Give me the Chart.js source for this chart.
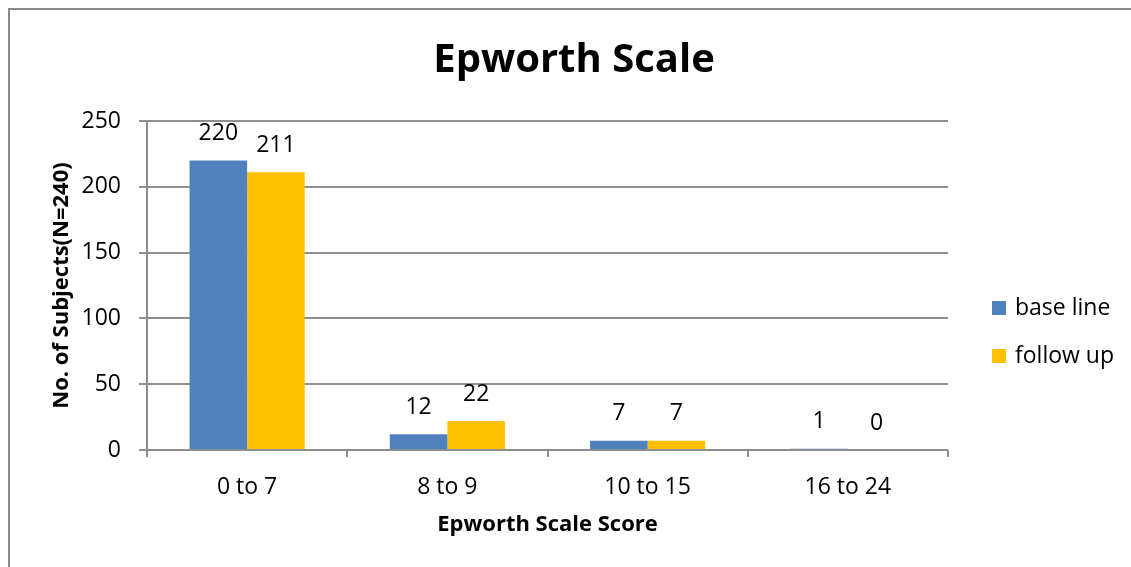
<!DOCTYPE html>
<html>
<head>
<meta charset="utf-8">
<script src="https://cdn.jsdelivr.net/npm/chart.js@4.4.1/dist/chart.umd.min.js"></script>
<style>
  html, body { margin: 0; padding: 0; background: #fff; }
  #wrap { position: relative; width: 1131px; height: 567px; }
</style>
</head>
<body>
<div id="wrap"><canvas id="c" width="1131" height="567"></canvas></div>
<script>
// Epworth Sleepiness Scale score bands and subject counts
const categories = ['0 to 7', '8 to 9', '10 to 15', '16 to 24'];
const baseLine = [220, 12, 7, 1];
const followUp = [211, 22, 7, 0];
const seriesNames = ['base line', 'follow up'];
const yTicks = [0, 50, 100, 150, 200, 250];

const FONT = '"Open Sans", Lato, sans-serif';
const GRID = '#8e8e8e';

// Outer frame (left and top edge) plus white background
const framePlugin = {
  id: 'frame',
  beforeDraw(chart) {
    const ctx = chart.ctx;
    ctx.save();
    ctx.fillStyle = '#fff';
    ctx.fillRect(0, 0, chart.width, chart.height);
    ctx.strokeStyle = '#8a8a8a';
    ctx.lineWidth = 2;
    ctx.beginPath();
    ctx.moveTo(9, chart.height);
    ctx.lineTo(9, 9);
    ctx.lineTo(chart.width, 9);
    ctx.stroke();
    ctx.restore();
  }
};

// Value labels above each bar
const valueLabels = {
  id: 'valueLabels',
  afterDatasetsDraw(chart) {
    const ctx = chart.ctx;
    ctx.save();
    ctx.font = '23px ' + FONT;
    ctx.fillStyle = '#000';
    ctx.textAlign = 'center';
    ctx.textBaseline = 'middle';
    chart.data.datasets.forEach((ds, di) => {
      chart.getDatasetMeta(di).data.forEach((bar, i) => {
        ctx.fillText(String(ds.data[i]), bar.x, bar.y - 27);
      });
    });
    ctx.restore();
  }
};

// Legend at the right, built from the dataset labels and colours
const sideLegend = {
  id: 'sideLegend',
  afterDraw(chart) {
    const ctx = chart.ctx;
    ctx.save();
    ctx.font = '23px ' + FONT;
    ctx.textBaseline = 'middle';
    ctx.textAlign = 'left';
    chart.data.datasets.forEach((ds, i) => {
      const cy = 308 + i * 48;
      ctx.fillStyle = ds.backgroundColor;
      ctx.fillRect(992, cy - 7, 14, 14);
      ctx.fillStyle = '#000';
      ctx.fillText(ds.label, 1015, cy);
    });
    ctx.restore();
  }
};

new Chart(document.getElementById('c'), {
  type: 'bar',
  data: {
    labels: categories,
    datasets: [
      { label: seriesNames[0], data: baseLine, backgroundColor: '#4F81BD' },
      { label: seriesNames[1], data: followUp, backgroundColor: '#FFC000' }
    ]
  },
  plugins: [framePlugin, valueLabels, sideLegend],
  options: {
    responsive: false,
    animation: false,
    devicePixelRatio: 1,
    layout: { padding: { left: 17, right: 0, top: 0, bottom: 0 } },
    datasets: { bar: { categoryPercentage: 0.575, barPercentage: 1.0 } },
    plugins: {
      legend: { display: false },
      tooltip: { enabled: false },
      title: {
        display: true,
        text: 'Epworth Scale',
        color: '#000',
        font: { family: FONT, size: 40, weight: 'bold', lineHeight: 1.2 },
        padding: { top: 37, bottom: 36 }
      }
    },
    scales: {
      x: {
        afterFit(s) { s.height = 117; },
        grid: { display: true, drawOnChartArea: false, drawTicks: true, tickLength: 7, color: GRID, lineWidth: 2, offset: true },
        border: { display: false },
        ticks: { color: '#000', font: { family: FONT, size: 23 }, padding: 17 },
        title: {
          display: true, text: 'Epworth Scale Score', color: '#000',
          font: { family: FONT, size: 22, weight: 'bold', lineHeight: 1.2 },
          padding: { top: 0, bottom: 29 }
        }
      },
      y: {
        min: 0, max: 250,
        afterFit(s) { s.width = 130; },
        afterBuildTicks(s) { s.ticks = yTicks.map(v => ({ value: v })); },
        grid: { color: GRID, lineWidth: 2, drawTicks: true, tickLength: 8 },
        border: { display: true, color: GRID, width: 2 },
        ticks: { color: '#000', font: { family: FONT, size: 23 }, padding: 18 },
        title: {
          display: true, text: 'No. of Subjects(N=240)', color: '#000',
          font: { family: FONT, size: 22, weight: 'bold', lineHeight: 1.2 },
          padding: { top: 32, bottom: 0 }
        }
      },
      // empty right-hand axis that reserves the legend column
      legendSpace: {
        type: 'linear',
        position: 'right',
        afterFit(s) { s.width = 183; },
        grid: { display: false },
        border: { display: false },
        ticks: { display: false },
        title: { display: false }
      }
    }
  }
});
</script>
</body>
</html>
